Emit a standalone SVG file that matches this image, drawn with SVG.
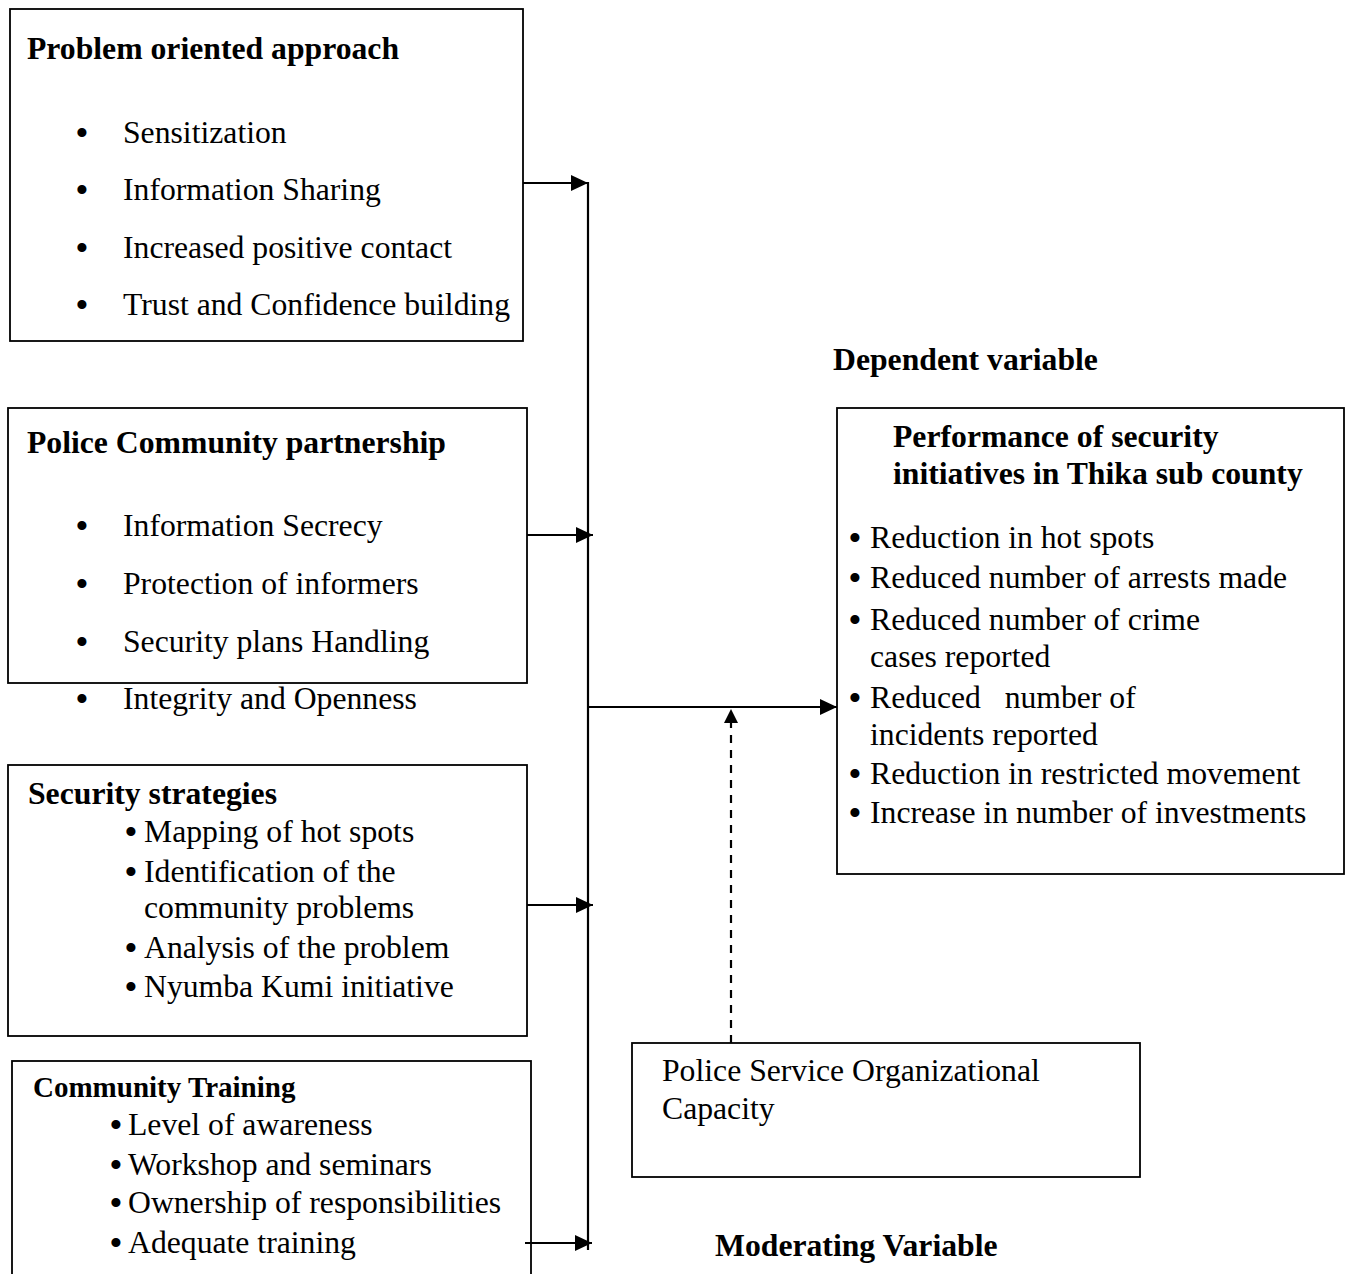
<svg xmlns="http://www.w3.org/2000/svg" width="1352" height="1274" viewBox="0 0 1352 1274">
<style>
text{font-family:"Liberation Serif","Times New Roman",serif;fill:#000}
.t{font-size:31.7px}
.h{font-size:31.7px;font-weight:bold}
.h2{font-size:29px;font-weight:bold}
.b{font-size:38px;text-anchor:middle}
.box{fill:#fff;stroke:#000;stroke-width:1.8}
.ln{stroke:#000;stroke-width:2.2;fill:none}
.dash{stroke:#000;stroke-width:2.2;fill:none;stroke-dasharray:8 7}
</style>
<defs>
<marker id="ah" markerUnits="userSpaceOnUse" markerWidth="18" markerHeight="16" refX="17" refY="8" orient="auto">
<path d="M0,0 L17,8 L0,16 Z" fill="#000"/>
</marker>
</defs>
<rect width="1352" height="1274" fill="#fff"/>

<g id="n1">
<rect class="box" x="10" y="9" width="513" height="332"/>
<text class="h" x="27" y="59">Problem oriented approach</text>
<text class="b" x="82" y="146">•</text><text class="t" x="123" y="143">Sensitization</text>
<text class="b" x="82" y="203">•</text><text class="t" x="123" y="200">Information Sharing</text>
<text class="b" x="82" y="261">•</text><text class="t" x="123" y="258">Increased positive contact</text>
<text class="b" x="82" y="318">•</text><text class="t" x="123" y="315">Trust and Confidence building</text>
</g>

<g id="n2">
<rect class="box" x="8" y="408" width="519" height="275"/>
<text class="h" x="27" y="453">Police Community partnership</text>
<text class="b" x="82" y="539">•</text><text class="t" x="123" y="536">Information Secrecy</text>
<text class="b" x="82" y="597">•</text><text class="t" x="123" y="594">Protection of informers</text>
<text class="b" x="82" y="655">•</text><text class="t" x="123" y="652">Security plans Handling</text>
<text class="b" x="82" y="712">•</text><text class="t" x="123" y="709">Integrity and Openness</text>
</g>

<g id="n3">
<rect class="box" x="8" y="765" width="519" height="271"/>
<text class="h" x="28" y="804">Security strategies</text>
<text class="b" x="131" y="845">•</text><text class="t" x="144" y="842">Mapping of hot spots</text>
<text class="b" x="131" y="885">•</text><text class="t" x="144" y="882">Identification of the</text>
<text class="t" x="144" y="918">community problems</text>
<text class="b" x="131" y="961">•</text><text class="t" x="144" y="958">Analysis of the problem</text>
<text class="b" x="131" y="1000">•</text><text class="t" x="144" y="997">Nyumba Kumi initiative</text>
</g>

<g id="n4">
<rect class="box" x="12" y="1061" width="519" height="240"/>
<text class="h2" x="33" y="1097">Community Training</text>
<text class="b" x="116" y="1138">•</text><text class="t" x="128" y="1135">Level of awareness</text>
<text class="b" x="116" y="1178">•</text><text class="t" x="128" y="1175">Workshop and seminars</text>
<text class="b" x="116" y="1216">•</text><text class="t" x="128" y="1213">Ownership of responsibilities</text>
<text class="b" x="116" y="1256">•</text><text class="t" x="128" y="1253">Adequate training</text>
</g>

<g id="dv">
<text class="h" x="833" y="370">Dependent variable</text>
<rect class="box" x="837" y="408" width="507" height="466"/>
<text class="h" x="893" y="447">Performance of security</text>
<text class="h" x="893" y="484">initiatives in Thika sub county</text>
<text class="b" x="855" y="551">•</text><text class="t" x="870" y="548">Reduction in hot spots</text>
<text class="b" x="855" y="591">•</text><text class="t" x="870" y="588">Reduced number of arrests made</text>
<text class="b" x="855" y="633">•</text><text class="t" x="870" y="630">Reduced number of  crime</text>
<text class="t" x="870" y="667">cases reported</text>
<text class="b" x="855" y="711">•</text><text class="t" x="870" y="708" xml:space="preserve">Reduced   number of</text>
<text class="t" x="870" y="745">incidents reported</text>
<text class="b" x="855" y="787">•</text><text class="t" x="870" y="784">Reduction in restricted movement</text>
<text class="b" x="855" y="826">•</text><text class="t" x="870" y="823">Increase in number of investments</text>
</g>

<g id="mv">
<rect class="box" x="632" y="1043" width="508" height="134"/>
<text class="t" x="662" y="1081">Police Service Organizational</text>
<text class="t" x="662" y="1119">Capacity</text>
<text class="h" x="715" y="1256">Moderating Variable</text>
</g>

<g id="connectors">
<line class="ln" x1="588" y1="182" x2="588" y2="1250"/>
<line class="ln" x1="523" y1="183" x2="588" y2="183" marker-end="url(#ah)"/>
<line class="ln" x1="527" y1="535" x2="593" y2="535" marker-end="url(#ah)"/>
<line class="ln" x1="527" y1="905" x2="593" y2="905" marker-end="url(#ah)"/>
<line class="ln" x1="525" y1="1243" x2="592" y2="1243" marker-end="url(#ah)"/>
<line class="ln" x1="588" y1="707" x2="837" y2="707" marker-end="url(#ah)"/>
<line class="dash" x1="731" y1="1043" x2="731" y2="722"/>
<path d="M731,709 L738,723 L724,723 Z" fill="#000"/>
</g>
</svg>
